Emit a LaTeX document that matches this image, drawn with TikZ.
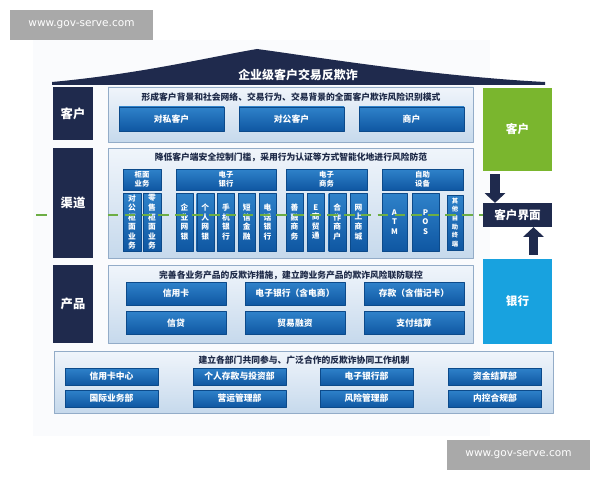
\documentclass[tikz,border=0pt]{standalone}
\usepackage{fontspec}
\setmainfont{Noto Sans CJK SC}
\newfontfamily\wmfont{DejaVu Sans}
\usetikzlibrary{arrows.meta}
\definecolor{navy}{HTML}{1F2A4D}
\definecolor{titletext}{HTML}{1E2A48}
\definecolor{itemtop}{HTML}{2F82CA}
\definecolor{itembot}{HTML}{0F57A2}
\definecolor{itemline}{HTML}{0C4A8A}
\definecolor{paneltop}{HTML}{F0F5FB}
\definecolor{panelbot}{HTML}{C6D9EC}
\definecolor{panelline}{HTML}{93ACC8}
\definecolor{custgreen}{HTML}{7AB62E}
\definecolor{bankblue}{HTML}{18A2DF}
\definecolor{dashgreen}{HTML}{6DAE45}
\definecolor{wmgray}{HTML}{A9A9A9}
\definecolor{backlight}{HTML}{FAFBFD}

\begin{document}
\begin{tikzpicture}[x=0.05cm,y=-0.05cm,line join=round,
    sz/.style 2 args={minimum width=#1*0.05cm,minimum height=#2*0.05cm,inner sep=0pt},
    side/.style={fill=navy,text=white,font=\fontsize{17.5}{20}\selectfont\bfseries},
    panel/.style={draw=panelline,top color=paneltop,bottom color=panelbot,line width=0.6pt},
    ptitle/.style={text=titletext,font=\fontsize{12.5}{15}\selectfont\bfseries,inner sep=0pt},
    item/.style={draw=itemline,line width=0.4pt,top color=itemtop,bottom color=itembot,
        text=white,font=\fontsize{12.5}{15}\selectfont\bfseries},
    vitem/.style={item,align=center,font=\fontsize{11}{13.6}\selectfont\bfseries},
    head/.style={item,align=center,font=\fontsize{10.5}{12.5}\selectfont\bfseries},
    bigarrow/.style={draw=navy,line width=14pt,-{Triangle[width=29pt,length=14pt]}},
    gdash/.style={draw=dashgreen,line width=3.8pt,dash pattern=on 15pt off 9pt},
    wm/.style={fill=wmgray,text=white,font=\wmfont\fontsize{15}{17}\selectfont}]
    \useasboundingbox (0,0) rectangle (600,480);
    \fill[white] (0,0) rectangle (600,480);
    \fill[backlight] (33,40) rectangle (490,436);
    % roof
    \fill[navy] (52,85) -- (52,82) .. controls (140,74) and (215,56) .. (257,49)
        .. controls (310,56) and (430,76) .. (545,82) -- (545,85) -- cycle;
    \node[text=white,font=\fontsize{17}{20}\selectfont\bfseries] (roof) at (298,75) {企业级客户交易反欺诈};
    % left labels
    \node[side,sz={40}{53}] (lk) at (73,113.5) {客户};
    \node[side,sz={40}{110}] (lq) at (73,203) {渠道};
    \node[side,sz={40}{78}] (lc) at (73,304) {产品};
    % panels
    \node[panel,sz={365}{55}] (p1) at (290.5,114.5) {};
    \node[panel,sz={365}{110}] (p2) at (290.5,203) {};
    \node[panel,sz={365}{78}] (p3) at (290.5,304) {};
    \node[panel,sz={499}{62}] (p4) at (303.5,382) {};
    \node[ptitle] (t1) at (291,97) {形成客户背景和社会网络、交易行为、交易背景的全面客户欺诈风险识别模式};
    \node[ptitle] (t2) at (291,157) {降低客户端安全控制门槛，采用行为认证等方式智能化地进行风险防范};
    \node[ptitle] (t3) at (291,275) {完善各业务产品的反欺诈措施，建立跨业务产品的欺诈风险联防联控};
    \node[ptitle] (t4) at (304,360) {建立各部门共同参与、广泛合作的反欺诈协同工作机制};
    % customers
    \foreach \x/\t [count=\i] in {171.5/对私客户,291.5/对公客户,411.5/商户}
        \node[item,sz={105}{24}] (k\i) at (\x,119) {\t};
    % channels
    \node[head,sz={38}{21}] (g1) at (142,179.5) {柜面\\业务};
    \node[head,sz={100}{21}] (g2) at (226,179.5) {电子\\银行};
    \node[head,sz={81}{21}] (g3) at (326.5,179.5) {电子\\商务};
    \node[head,sz={81}{21}] (g4) at (422.5,179.5) {自助\\设备};
    \foreach \x/\w/\t [count=\i] in {132/18/{对\\公\\柜\\面\\业\\务},152/18/{零\\售\\柜\\面\\业\\务},
        184.5/17/{企\\业\\网\\银},205.2/17/{个\\人\\网\\银},226/17/{手\\机\\银\\行},
        246.8/17/{短\\信\\金\\融},267.5/17/{电\\话\\银\\行},
        294.5/17/{善\\融\\商\\务},315.8/17/{E\\商\\贸\\通},337.2/17/{合\\作\\商\\户},
        358.5/17/{网\\上\\商\\城},394.5/25/{A\\T\\M},425.5/27/{P\\O\\S}}
        \node[vitem,sz={\w}{58}] (v\i) at (\x,222) {\t};
    \node[vitem,sz={16}{55},font=\fontsize{9}{12.4}\selectfont\bfseries] (v14) at (455,222.5)
        {其\\他\\自\\助\\终\\端};
    % products
    \foreach \x/\t [count=\i] in {176/信用卡,295/电子银行（含电商）,414/存款（含借记卡）}
        \node[item,sz={100}{23}] (c\i) at (\x,293.5) {\t};
    \foreach \x/\t [count=\i] in {176/信贷,295/贸易融资,414/支付结算}
        \node[item,sz={100}{23}] (d\i) at (\x,323) {\t};
    % departments
    \foreach \x/\t [count=\i] in {111.5/信用卡中心,239.5/个人存款与投资部,366.5/电子银行部,495/资金结算部}
        \node[item,sz={93}{17}] (b\i) at (\x,376.5) {\t};
    \foreach \x/\t [count=\i] in {111.5/国际业务部,239.5/营运管理部,366.5/风险管理部,495/内控合规部}
        \node[item,sz={93}{17}] (e\i) at (\x,398.5) {\t};
    % right side
    \node[fill=custgreen,text=white,sz={69}{83},font=\fontsize{16.5}{20}\selectfont\bfseries] (kh) at (517.5,129.5) {客户};
    \node[fill=navy,text=white,sz={69}{24},font=\fontsize{16.5}{20}\selectfont\bfseries] (iface) at (517.5,215) {客户界面};
    \node[fill=bankblue,text=white,sz={69}{85},font=\fontsize{16.5}{20}\selectfont\bfseries] (yh) at (517.5,301.5) {银行};
    \draw[bigarrow] ([shift={(-22.5,3)}]kh.south) -- ([shift={(-22.5,0)}]iface.north);
    \draw[bigarrow] ([shift={(16,-4)}]yh.north) -- ([shift={(16,0)}]iface.south);
    % dashed line
    \coordinate (dl) at (36,215);
    \draw[gdash] (dl) -- (dl -| lq.west);
    \draw[gdash] (iface.west -| p2.west) -- (iface.west);
    % watermarks
    \node[wm,sz={143}{30}] (wm1) at (81.5,25) {www.gov-serve.com};
    \node[wm,sz={143}{30}] (wm2) at (518.5,455) {www.gov-serve.com};
\end{tikzpicture}
\end{document}
